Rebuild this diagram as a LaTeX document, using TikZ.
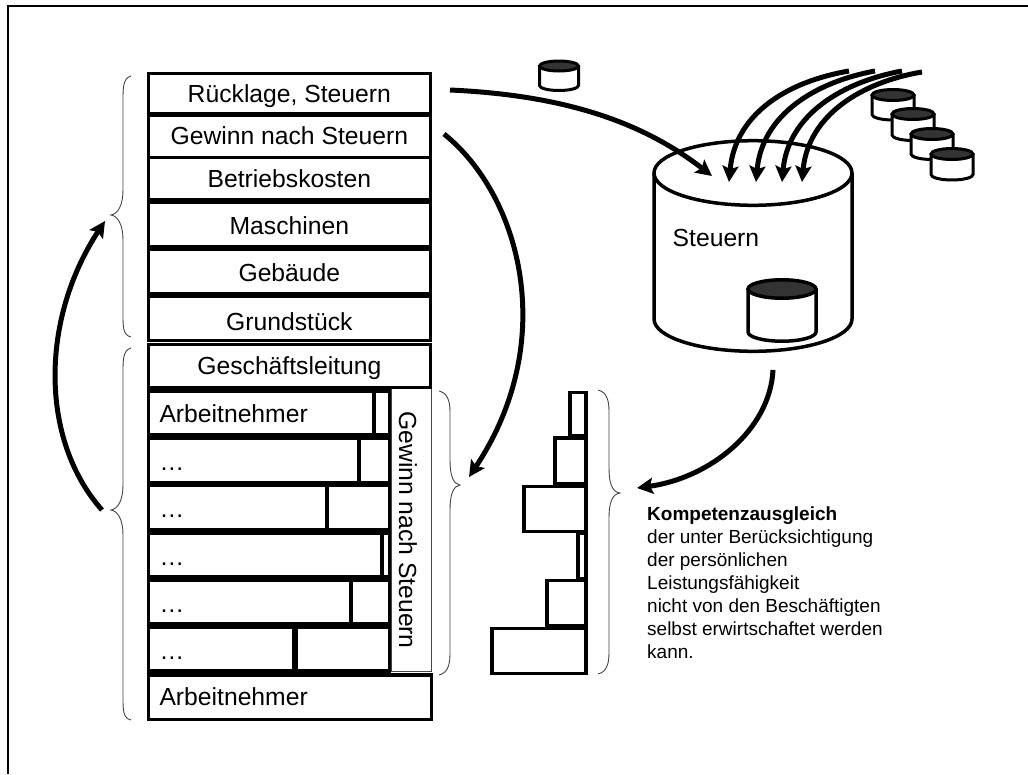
\documentclass[tikz,border=0pt]{standalone}
\usepackage{fontspec}
\setmainfont{Liberation Sans}
\usetikzlibrary{arrows.meta}
\newcommand{\cellbox}[7]{% name x1 y1 x2 y2 text baseline
  \pgfmathsetmacro{\cw}{#4-#2}\pgfmathsetmacro{\ch}{#5-#3}%
  \pgfmathsetmacro{\cx}{(#4+#2)/2}\pgfmathsetmacro{\cy}{(#5+#3)/2}%
  \pgfmathsetmacro{\th}{2*(#7-(#5+#3)/2)}%
  \node[cell, minimum width=\cw pt, minimum height=\ch pt, text height=\th pt, text depth=0pt] (#1) at (\cx,\cy) {#6};}
\newcommand{\rowbox}[7]{%
  \pgfmathsetmacro{\cw}{#4-#2}\pgfmathsetmacro{\ch}{#5-#3}%
  \pgfmathsetmacro{\cx}{(#4+#2)/2}\pgfmathsetmacro{\cy}{(#5+#3)/2}%
  \pgfmathsetmacro{\tw}{#4-#2-22}%
  \pgfmathsetmacro{\th}{2*(#7-(#5+#3)/2)}%
  \node[cell, line width=3.6pt, minimum width=\cw pt, minimum height=\ch pt, text width=\tw pt, align=left, inner xsep=11pt, text height=\th pt, text depth=0pt] (#1) at (\cx,\cy) {#6};}
\newcommand{\drum}[8][drumdark]{% fill, name, left, right, top centre y, bottom centre y, ry, lw
  \pgfmathsetmacro{\rx}{(#4-#3)/2}\pgfmathsetmacro{\mx}{(#4+#3)/2}%
  \coordinate (#2) at (\mx,#5);
  \draw[line width=#8pt, fill=white] (#3,#5) -- (#3,#6) arc[start angle=180,end angle=360,x radius=\rx pt,y radius=#7pt] -- (#4,#5);
  \draw[line width=#8pt, fill=#1] (\mx,#5) ellipse[x radius=\rx pt,y radius=#7pt];}
\definecolor{drumdark}{HTML}{333333}
\definecolor{brace}{HTML}{444444}
\tikzset{
  x=1pt,y=-1pt,
  cell/.style={draw=black,line width=3pt,fill=white,inner sep=0pt,font=\fontsize{24.7}{29}\selectfont},
  barbox/.style={draw=black,line width=3.5pt,fill=white,inner sep=0pt},
  flow/.style={line width=5pt,-{Stealth[length=16pt,width=16pt,inset=3pt]}},
  cbrace/.style={draw=brace,line width=0.9pt},
}
\begin{document}
\begin{tikzpicture}
\useasboundingbox (0,0) rectangle (1028,774);
\draw[line width=2.2pt] (8,774) -- (8,6) -- (1028,6);
% vertical profit box behind the rows
\node[draw=brace,line width=0.8pt,fill=white,minimum width=40pt,minimum height=283pt,inner sep=0pt] (gs) at (411,529.5) {};
\node[rotate=-90,font=\fontsize{24.7}{29}\selectfont,anchor=base] (gst) at (399,530) {Gewinn nach Steuern};
% stacked upper boxes
\cellbox{a}{148}{73.5}{430.7}{113.2}{Rücklage, Steuern}{102.7}
\cellbox{b}{148}{115.2}{430.7}{157.2}{Gewinn nach Steuern}{144.3}
\cellbox{c}{148}{157.5}{430.7}{199.8}{Betriebskosten}{187.7}
\cellbox{d}{148}{202.8}{430.7}{246.5}{Maschinen}{234}
\cellbox{e}{148}{249.5}{430.7}{293.2}{Gebäude}{281}
\cellbox{f}{148}{296.8}{430.7}{340.5}{Grundstück}{330.7}
\cellbox{g}{148}{344.2}{430.7}{387.2}{Geschäftsleitung}{374.3}
% employee rows
\rowbox{r1}{148.5}{391.2}{389.5}{434.8}{Arbeitnehmer}{422.7}
\rowbox{r2}{148.5}{438.2}{389.5}{482.8}{…}{470}
\rowbox{r3}{148.5}{485.2}{389.5}{529.8}{…}{517}
\rowbox{r4}{148.5}{533.2}{389.5}{576.8}{…}{565}
\rowbox{r5}{148.5}{580.2}{389.5}{623.8}{…}{612}
\rowbox{r6}{148.5}{627.2}{389.5}{670.8}{…}{659}
\draw[line width=4pt] (374,393) -- (374,433);
\draw[line width=4pt] (359,440) -- (359,481);
\draw[line width=4pt] (327,487) -- (327,528);
\draw[line width=3.5pt] (382,535) -- (382,575);
\draw[line width=4pt] (351,582) -- (351,622);
\draw[line width=6pt] (295,629) -- (295,669);
\rowbox{h}{148.5}{675}{431.5}{719.5}{Arbeitnehmer}{705}
% histogram
\node[barbox,minimum width=16pt,minimum height=43pt] (h1) at (578,414) {};
\node[barbox,minimum width=31pt,minimum height=46pt] (h2) at (570.5,461) {};
\node[barbox,minimum width=62pt,minimum height=45pt] (h3) at (555,509) {};
\node[barbox,minimum width=8pt,minimum height=45pt] (h4) at (582,556) {};
\node[barbox,minimum width=39pt,minimum height=45pt] (h5) at (566.5,603) {};
\node[barbox,minimum width=94pt,minimum height=45pt] (h6) at (539,651) {};
% braces
\draw[cbrace] (131,76) .. controls (123,78) and (123,88) .. (123,100) -- (123,190) .. controls (123,205) and (118,214) .. (111,215) .. controls (118,216) and (123,225) .. (123,240) -- (123,315) .. controls (123,327) and (123,335) .. (131,337);
\draw[cbrace] (131,348) .. controls (123,350) and (123,360) .. (123,372) -- (123,485) .. controls (123,500) and (118,509) .. (111,510) .. controls (118,511) and (123,520) .. (123,535) -- (123,698) .. controls (123,710) and (123,718) .. (131,720);
\draw[cbrace] (439,391) .. controls (447,393) and (450,400) .. (450,412) -- (450,460) .. controls (450,475) and (453,484) .. (460,485) .. controls (453,486) and (450,495) .. (450,510) -- (450,654) .. controls (450,666) and (447,673) .. (439,675);
\draw[cbrace] (598,390) .. controls (606,392) and (609,399) .. (609,411) -- (609,468) .. controls (609,483) and (612,492) .. (620,493) .. controls (612,494) and (609,503) .. (609,518) -- (609,653) .. controls (609,665) and (606,672) .. (598,674);
% big drum
\drum[white]{big}{654}{852}{173}{319}{32.3}{3.5}
\node[font=\fontsize{24.7}{29}\selectfont,anchor=base west,inner sep=0pt] (st) at (672.5,246) {Steuern};
\drum{inner}{748}{816}{289}{332}{9.2}{3.5}
\drum{top}{539.5}{578.5}{66}{85.5}{5}{3}
\drum{d1}{872}{914}{95}{114.5}{5.5}{3}
\drum{d2}{892}{934}{114}{135}{5.5}{3}
\drum{d3}{911}{953}{134}{154}{5.5}{3}
\drum{d4}{931}{973}{154}{174.5}{5.5}{3}
% arrows
\coordinate (s0) at (450,90);\coordinate (t0) at (712,176);
\draw[flow] (s0) .. controls (560,95) and (640,120) .. (t0);
\coordinate (s1) at (849,71);\coordinate (t1) at (729,182);
\coordinate (s2) at (875,71);\coordinate (t2) at (756,182);
\coordinate (s3) at (902,71);\coordinate (t3) at (782,182);
\coordinate (s4) at (922,72);\coordinate (t4) at (802,182);
\draw[flow] (s1) .. controls (785,82) and (735,115) .. (t1);
\draw[flow] (s2) .. controls (815,82) and (762,115) .. (t2);
\draw[flow] (s3) .. controls (842,82) and (788,115) .. (t3);
\draw[flow] (s4) .. controls (862,82) and (808,115) .. (t4);
\coordinate (s5) at (444,134);\coordinate (t5) at (469,477);
\draw[flow] (s5) .. controls (520,195) and (560,340) .. (t5);
\coordinate (s6) at (102,510);\coordinate (t6) at (105,221);
\draw[flow] (s6) .. controls (40,440) and (40,320) .. (t6);
\coordinate (s7) at (773,370);\coordinate (t7) at (637,488);
\draw[flow] (s7) .. controls (770,430) and (710,478) .. (t7);
% note
\node[anchor=north west,align=left,inner sep=0pt,font=\fontsize{19}{23}\selectfont] (note) at (647,507) {\textbf{Kompetenzausgleich}\\der unter Berücksichtigung\\der persönlichen\\Leistungsfähigkeit\\nicht von den Beschäftigten\\selbst erwirtschaftet werden\\kann.};
\end{tikzpicture}
\end{document}
